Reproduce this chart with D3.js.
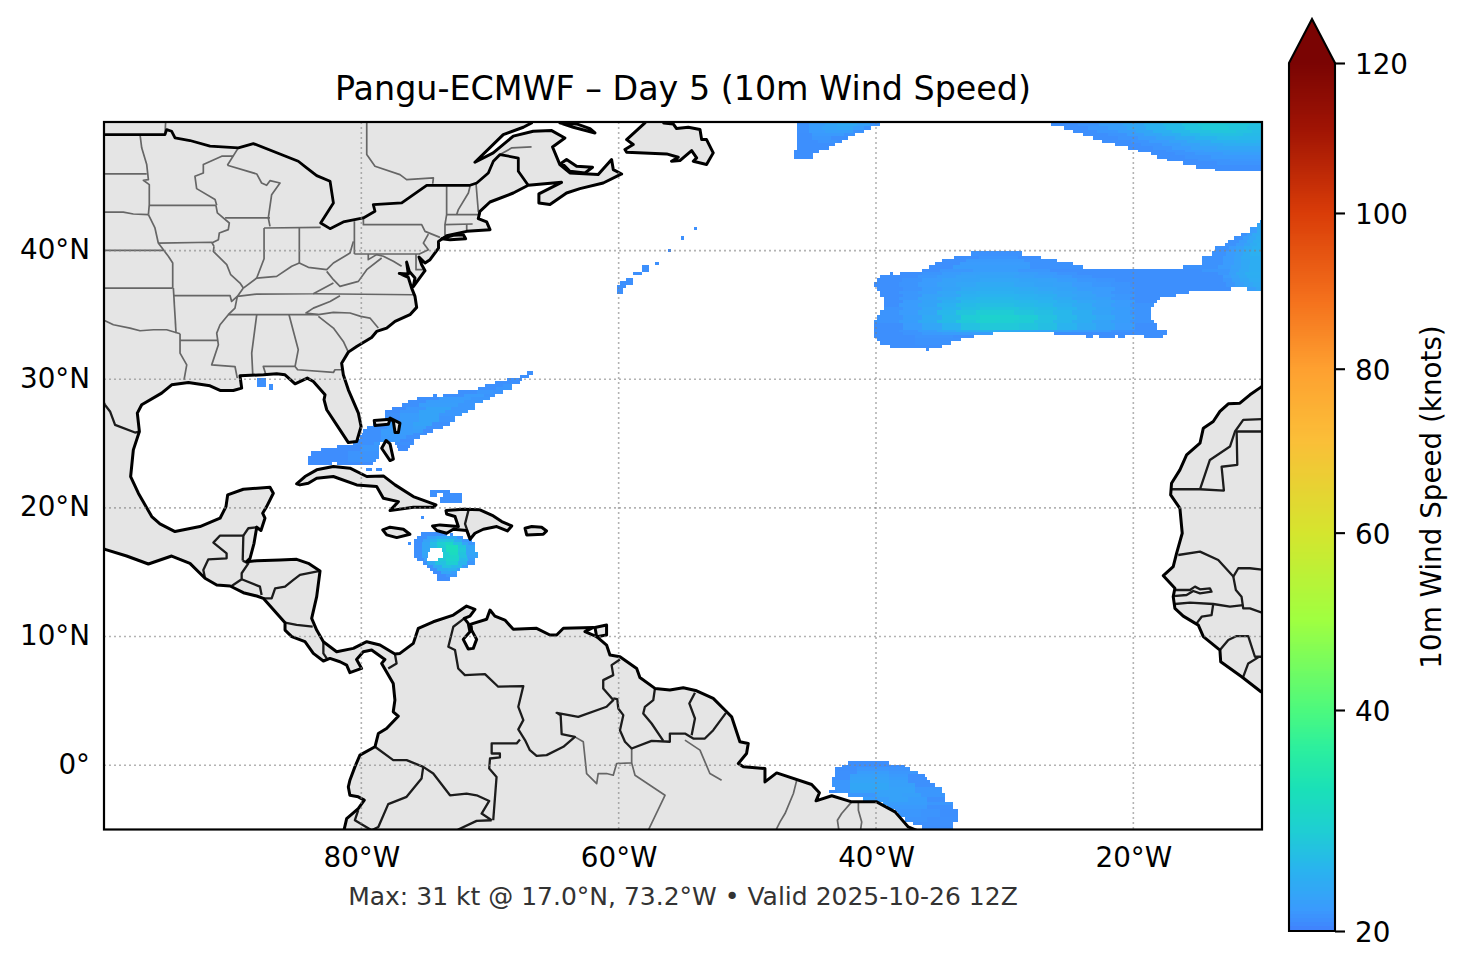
<!DOCTYPE html>
<html>
<head>
<meta charset="utf-8">
<title>Pangu-ECMWF Day 5</title>
<script src="https://cdn.jsdelivr.net/npm/d3@7"></script>
<style>
  html, body { margin: 0; background: #fff; }
  svg { display: block; }
  text { font-family: "DejaVu Sans", sans-serif; fill: #000; }
</style>
</head>
<body>
<svg id="chart" width="1466" height="969"></svg>
<script>
// ---- axis and colour bar values ----
const lonTicks = [-80, -60, -40, -20];
const latTicks = [0, 10, 20, 30, 40];
const barTicks = [20, 40, 60, 80, 100, 120];
// colour, position is the normed 0..1 height on the bar
const colorPos = [0, 0.024, 0.07, 0.116, 0.162, 0.209, 0.253, 0.358, 0.4585, 0.566, 0.647, 0.727, 0.827, 0.923, 1];
const colorHex = ["#4084fd", "#3a9bfd", "#29b4ee", "#1ecfd2", "#1ae0b8", "#2cef9e", "#4cf97e", "#a0ff40", "#d5e52e", "#fbbe38", "#fea030", "#f4701c", "#d93c08", "#a01404", "#7a0403"];

// ---- wind field ----
// each row: lat top, lat bottom, then lon, knots, lon, knots, ... , lon
const bigBlob = [
  [42.41,42.13,-10.15,22.5,-10],
  [42.13,41.87,-10.39,22.5,-10],
  [41.87,41.37,-10.93,21.3,-10.4,23,-10],
  [41.37,41.11,-11.63,20.7,-11.2,21.5,-10.8,23,-10],
  [41.11,40.85,-12.18,20.7,-11.5,21.5,-11,22.5,-10.5,23.4,-10],
  [40.85,40.6,-12.67,20.7,-11.8,21.5,-11.2,22.5,-10.7,23.6,-10],
  [40.6,40.34,-12.88,20.7,-12,21.3,-11.4,22.2,-10.9,23.2,-10.4,23.8,-10],
  [40.34,39.95,-13.65,20.7,-12.6,21.3,-12,22,-11.4,23,-10.8,23.8,-10],
  [39.95,39.56,-13.89,20.7,-12.8,21.3,-12.1,22,-11.5,23,-10.9,23.8,-10],
  [39.56,39.35,-14.66,20.7,-13,21.3,-12.2,22,-11.6,23,-10.9,23.5,-10],
  [39.35,38.91,-14.66,20.7,-13,21.3,-12.2,22,-11.6,22.8,-10.9,23.5,-10],
  [38.91,38.6,-16.14,20.7,-13.4,21.3,-12.4,22,-11.6,22.8,-11,23.5,-10],
  [39.95,39.56,-32.62,20.7,-28.65],
  [39.56,39.35,-33.94,20.5,-32,20.9,-29,20.5,-27.18],
  [39.35,39.14,-34.87,20.5,-33,21.2,-28.5,20.7,-25.93],
  [39.14,38.91,-35.41,20.5,-33.5,21.3,-28,20.7,-24.69],
  [38.91,38.6,-35.88,20.5,-34,21.5,-28,20.7,-23.91],
  [38.6,38.36,-36.42,20.5,-35,21,-32.5,21.5,-29,21,-26.5,20.5,-14.66,21,-12.5,21.8,-11.8,22.8,-11,23.5,-10],
  [38.36,38.13,-38.91,20.5,-38.67],
  [38.36,38.13,-38.13,20.5,-36.4,20.9,-34.9,21.4,-33.4,21.8,-31.9,22,-28.9,21.6,-27.4,21.2,-25.9,20.8,-24.4,20.5,-13.4,21,-12.6,21.8,-12,22.8,-11.3,23.6,-10],
  [38.13,37.87,-39.69,20.5,-36.75,21,-35.25,21.5,-33.75,22,-32.25,22.2,-29.25,21.8,-27.75,21.5,-26.25,21.2,-24.75,20.8,-23.25,20.5,-13,21.3,-12.4,22,-11.8,22.8,-11.2,23.5,-10],
  [37.87,37.6,-39.92,20.5,-38,20.8,-36.4,21.3,-34.9,22,-33.4,22.2,-31.9,22.5,-28.9,22.2,-27.4,22,-25.9,21.5,-24.4,21,-22.9,20.8,-21.4,20.5,-13,21,-12.3,21.8,-11.7,22.6,-11,23.3,-10],
  [37.6,37.15,-40.15,20.5,-38.25,20.8,-36.75,21.3,-35.25,22,-33.75,22.5,-32.25,23,-29.25,22.5,-27.75,22.2,-26.25,22,-24.75,21.3,-23.25,21,-21.75,20.8,-20.25,20.5,-12.8,21,-12.1,21.8,-11.4,22.5,-10.7,23,-10],
  [37.15,36.89,-39.92,20.5,-37.9,20.8,-36.4,21.5,-34.9,22.2,-33.4,23,-31.9,23.5,-28.9,23,-27.4,22.5,-25.9,22.2,-24.4,21.5,-22.9,21.3,-21.4,20.8,-19.9,20.5,-12.41],
  [37.15,36.89,-11.19,21.6,-10.5,22.6,-10],
  [36.89,36.65,-39.69,20.5,-38.25,21,-36.75,21.5,-35.25,22.5,-33.75,23.5,-32.25,23.8,-29.25,23.5,-27.75,23,-26.25,22.5,-24.75,22,-23.25,21.3,-21.75,20.8,-20.25,20.5,-15.67],
  [36.65,36.39,-39.69,20.5,-37.9,21,-36.4,22,-34.9,22.5,-33.4,23.8,-31.9,24.2,-28.9,23.8,-27.4,23.5,-25.9,22.5,-24.4,22,-22.9,21.3,-21.4,21,-19.9,20.5,-16.68],
  [36.39,36.13,-39.38,20.5,-38.25,21,-36.75,22,-35.25,23,-33.75,24.2,-32.25,24.8,-29.25,24.2,-27.75,23.8,-26.25,23,-24.75,22.2,-23.25,21.8,-21.75,21,-20.25,20.5,-17.93],
  [36.13,35.9,-39.38,20.5,-37.9,21.3,-36.4,22.2,-34.9,23.5,-33.4,24.8,-31.9,25.2,-28.9,24.8,-27.4,24.2,-25.9,23.5,-24.4,22.5,-22.9,22,-21.4,21.3,-19.9,20.5,-18.19],
  [35.9,35.64,-39.38,20.5,-38.25,21.3,-36.75,22.2,-35.25,23.8,-33.75,25.2,-32.25,25.7,-29.25,25.2,-27.75,24.8,-26.25,23.8,-24.75,23,-23.25,22,-21.75,21.3,-20.25,20.8,-18.39],
  [35.64,35.41,-39.38,20.8,-37.9,21.3,-36.4,22.5,-34.9,24.2,-33.4,25.7,-31.9,26.5,-28.9,25.7,-27.4,25.2,-25.9,24.2,-24.4,23,-22.9,22.2,-21.4,21.5,-19.9,20.8,-18.63],
  [35.41,35.02,-39.69,20.8,-38.25,21.3,-36.75,22.5,-35.25,24.8,-33.75,26.5,-32.25,27.5,-29.25,26.5,-27.75,25.7,-26.25,24.8,-24.75,23.5,-23.25,22.2,-21.75,21.5,-20.25,20.8,-18.63],
  [35.02,34.63,-39.92,20.8,-37.9,21.5,-36.4,23,-34.9,25.2,-33.4,27.5,-31.9,28.5,-30.4,28.2,-28.9,27.5,-27.4,26,-25.9,24.8,-24.4,23.5,-22.9,22.5,-21.4,21.5,-19.9,20.8,-18.63],
  [34.63,34.37,-40.15,20.8,-38.25,21.5,-36.75,23,-35.25,25.2,-33.75,27,-32.25,28.2,-30.75,28,-29.25,27.5,-27.75,26,-26.25,24.8,-24.75,23.5,-23.25,22.2,-21.75,21.5,-20.25,20.8,-18.39],
  [34.37,33.85,-40.15,20.5,-37.9,21.3,-36.4,22.5,-34.9,24.2,-33.4,26,-31.9,27,-28.9,26.5,-27.4,25.7,-25.9,24.2,-24.4,23,-22.9,22.2,-21.4,21.3,-19.9,20.5,-18.19],
  [33.85,33.67,-40.15,20.5,-38.25,20.8,-36.75,21.5,-35.25,22.5,-33.75,23.5,-32.25,24,-30.75,23.5,-29.25,23,-27.75,22.5,-26.25,22,-24.75,21.5,-23.25,21.3,-21.75,20.8,-20.25,20.5,-17.41],
  [33.67,33.41,-40.15,20.5,-37.9,20.8,-36.4,21.2,-34.9,21.5,-30.88],
  [33.67,33.41,-26.17,20.5,-17.41],
  [33.41,33.2,-40.15,20.5,-37,20.8,-34,20.6,-32.38],
  [33.41,33.2,-23.68,20.5,-23.13],
  [33.41,33.2,-22.67,20.5,-21.42],
  [33.41,33.2,-21.17,20.5,-20.65],
  [33.41,33.2,-19.17,20.5,-17.67],
  [33.2,32.94,-39.92,20.5,-37,20.7,-33.39],
  [32.94,32.63,-39.69,20.5,-37,20.7,-34.17],
  [32.63,32.42,-38.91,20.5,-34.9],
  [32.42,32.16,-36.11,20.5,-35.87]
];
const topLeftBlob = [
  [50.05,49.93,-46.11,21,-44.8,22,-43.5,23,-42,22.2,-40.5,21,-38.91],
  [49.93,49.67,-46.11,20.7,-45.2,21.5,-44,22.4,-43,23,-41.5,22,-40.5,20.8,-39.69],
  [49.67,49.41,-46.11,20.7,-45.2,21.5,-44.2,22.2,-43,22.6,-41.8,21.5,-40.9,20.7,-40.39],
  [49.41,49.15,-46.11,20.6,-45.2,21.3,-44,21.8,-42.8,21.6,-41.8,20.7,-40.93],
  [49.15,48.89,-46.11,20.5,-45,21.2,-43.5,21.2,-42.5,20.7,-41.63],
  [48.89,48.63,-46.11,20.5,-45,21,-43.5,20.5,-42.15],
  [48.63,48.38,-46.11,20.5,-44.5,20.8,-43,20.5,-42.67],
  [48.38,48.12,-46.11,20.5,-43.19],
  [48.12,47.86,-46.11,20.5,-43.65],
  [47.86,47.6,-46.37,20.5,-44.43],
  [47.6,47.16,-46.37,20.5,-44.87]
];
const topRightBlob = [
  [50.05,49.93,-26.86,20.5,-24.5,21,-22.5,21.8,-20.5,22.8,-19,23.8,-17.5,25,-16,26,-14.8,27,-12.5,26.5,-11,26,-10],
  [49.93,49.67,-26.4,20.5,-24.3,20.8,-22.7,21.6,-20.8,22.6,-19.2,24,-17.7,25.2,-16.2,26.4,-15,27.3,-12.8,26.8,-11,26,-10],
  [49.67,49.41,-25.39,20.5,-23.5,21,-22,21.6,-20.5,22.6,-19,24,-17.5,25.2,-16,26.4,-14.7,27.2,-12.6,26.6,-11.2,25.8,-10],
  [49.41,49.15,-24.69,20.5,-22.8,21,-21.2,21.6,-19.8,22.6,-18.5,23.8,-17,25,-15.6,26,-14,26.6,-12,26,-10.8,25.4,-10],
  [49.15,48.89,-23.91,20.5,-22,20.8,-20.5,21.5,-19.2,22.4,-17.8,23.5,-16.3,24.6,-14.8,25.5,-13,25.8,-11.5,25.2,-10],
  [48.89,48.63,-23.13,20.5,-21.2,20.8,-19.6,21.4,-18.2,22.2,-16.8,23.2,-15.2,24.3,-13.5,25,-11.8,24.8,-10],
  [48.63,48.38,-22.43,20.5,-20.2,20.8,-18.8,21.3,-17.2,22,-15.8,23,-14,24,-12,24.3,-10.5,24,-10],
  [48.38,48.17,-21.42,20.5,-19.4,20.8,-17.8,21.4,-16.3,22,-14.8,22.8,-13,23.4,-10],
  [48.17,47.86,-20.41,20.5,-18.5,20.8,-17,21.3,-15.5,22,-13.5,22.6,-10],
  [47.86,47.65,-19.61,20.5,-17.5,20.8,-16,21.3,-14.5,21.8,-12.5,22.2,-10],
  [47.65,47.42,-18.63,20.5,-16.8,20.8,-15.2,21.2,-13,21.7,-10],
  [47.42,47.16,-18.16,20.5,-16,20.8,-14,21.2,-10],
  [47.16,46.95,-17.38,20.5,-15,20.8,-12.5,21,-10],
  [46.95,46.64,-16.14,20.5,-13.5,20.8,-10],
  [46.64,46.38,-15.13,20.5,-10],
  [46.38,46.17,-13.65,20.5,-10]
];
const streakBlob = [
  [41.86,41.63,-54.15,20.6,-53.92],
  [41.16,40.85,-55.16,20.6,-54.93],
  [40.15,39.92,-56.17,20.3,-55.94],
  [39.14,38.91,-57.18,20.6,-56.87],
  [38.91,38.36,-58.19,20.6,-57.65],
  [38.36,38.13,-58.89,20.6,-58.19],
  [37.9,37.35,-59.43,20.6,-58.89],
  [37.66,37.12,-59.9,20.6,-59.43],
  [37.35,36.65,-60.14,20.6,-59.67]
];
const gulfSpecks = [
  [30.09,29.37,-88.13,20.6,-87.41],
  [29.65,29.13,-87.18,20.6,-86.87]
];
const bahamasBlob = [
  [30.66,30.35,-67.15,20.6,-66.68],
  [30.35,30.12,-67.66,20.6,-66.94],
  [30.12,29.86,-68.7,20.6,-67.53],
  [29.86,29.62,-69.61,20.6,-67.66],
  [29.62,29.37,-70.38,20.6,-69,21,-68.31],
  [29.37,29.13,-70.9,20.6,-69.5,21,-68.31],
  [29.13,28.87,-72.46,20.6,-71,21,-69.8,20.8,-68.96],
  [28.87,28.61,-73.62,20.6,-72,21.3,-70.5,20.8,-69.61],
  [28.87,28.61,-74.4,20.6,-74.14],
  [28.61,28.38,-75.7,20.6,-74,21.3,-71.5,21,-70],
  [28.38,28.12,-76.34,20.6,-75,21.5,-72,21,-70.57],
  [28.12,27.86,-76.86,20.6,-75.5,21.6,-72.5,21,-71.16],
  [27.86,27.63,-77.64,20.4,-76.5,21,-75,22.2,-73,21,-71.16],
  [27.63,27.37,-78.16,20.4,-77,21,-75.5,22.2,-73.5,21,-71.68],
  [27.37,27.11,-78.16,20.6,-77,21.4,-75.5,22.2,-74,21,-72.2],
  [27.11,26.64,-78.16,20.6,-77,21.4,-75.5,22.2,-74,20.8,-72.72],
  [26.64,26.38,-79.06,20.6,-78,21.4,-76,22.2,-74.5,20.6,-73.1],
  [26.38,26.12,-79.58,20.6,-78,21.4,-76,21.8,-75,20.6,-73.62],
  [26.12,25.86,-79.84,20.6,-78.5,21.4,-76,21.6,-75.2,20.4,-74.4],
  [25.86,25.63,-79.97,20.6,-78.5,21.4,-76,20.6,-74.92],
  [25.63,25.37,-80.1,20.6,-78.5,21.2,-76.5,20.6,-75.44],
  [25.37,25.14,-80.23,20.6,-78.5,21.2,-77,20.4,-75.9],
  [25.14,24.88,-80.62,20.6,-79,21.2,-78.54],
  [25.14,24.88,-77.38,20.6,-75.9],
  [24.88,24.64,-81.91,20.4,-80,21,-78.6],
  [24.88,24.64,-77.25,20.4,-76.2],
  [24.64,24.39,-83.13,20.4,-80,21,-78.65],
  [24.64,24.39,-77.12,20.4,-76.34],
  [24.39,24.07,-83.9,20.4,-81,20.8,-78.65],
  [24.07,23.84,-84.11,20.4,-81,20.8,-78.65],
  [23.84,23.58,-84.11,20.4,-81,20.8,-78.86],
  [23.58,23.35,-84.11,20.4,-82.3],
  [23.58,23.35,-81.9,20.4,-79.12],
  [23.11,22.9,-79.63,20.6,-79.17],
  [23.11,22.9,-78.86,20.6,-78.39]
];
const windwardBlob = [
  [21.4,21.14,-74.66,20.6,-73.1],
  [21.14,20.88,-74.66,20.6,-74.14],
  [21.14,20.88,-73.62,20.6,-72.2],
  [20.88,20.42,-73.88,20.6,-72.2],
  [19.38,19.14,-75.36,20.6,-75.13],
  [17.35,17.12,-76.37,20.6,-76.14],
  [18.03,17.82,-73.1,20.6,-72.84]
];
const stormBlob = [
  [18.11,17.82,-75.36,20.6,-73.36],
  [17.82,17.59,-75.67,20.6,-74.9,22,-74.2,23,-73.4,23,-72.6,20.8,-72.07],
  [17.59,17.35,-75.9,20.5,-75.2,22,-74.7,24,-74.1,26,-73.4,26.5,-72.8,23.5,-72.2,21,-71.42],
  [17.35,17.09,-75.9,20.5,-75.3,22.5,-74.7,25.5,-74.1,28,-73.5,29.5,-72.9,26,-72.2,22.5,-71.7,21,-71.16],
  [17.09,16.86,-75.9,20.5,-75.3,22.5,-74.7,25,-74.1,27.5,-73.4,31,-72.5,26.5,-71.9,22.5,-71.16],
  [16.86,16.6,-75.9,20.6,-75.3,22.5,-74.66],
  [16.86,16.6,-73.75,27,-73.4,31,-72.5,27,-71.9,22.5,-71.16],
  [16.6,16.34,-75.9,20.6,-75.3,22.5,-74.79],
  [16.6,16.34,-73.62,28,-73.2,30.5,-72.5,26.5,-71.9,22.5,-70.9],
  [16.34,16.08,-75.9,20.6,-75.3,22,-74.79],
  [16.34,16.08,-73.62,28,-73.1,29.5,-72.4,26,-71.8,22,-70.9],
  [16.08,15.85,-75.67,20.6,-75.1,22,-74.92],
  [16.08,15.85,-74.01,27,-73.4,29,-72.4,25,-71.7,21.5,-71.16],
  [15.85,15.59,-75.18,20.6,-74.9,23,-74.3,26,-73.4,28,-72.5,24.5,-71.8,21,-71.16],
  [15.59,15.33,-74.92,20.6,-74.4,23,-73.7,26,-73,25,-72.2,21.5,-71.68],
  [15.33,15.1,-74.66,20.6,-74.1,23.5,-73.3,24,-72.6,21.5,-72.33],
  [15.1,14.84,-74.4,20.4,-73.8,22.5,-73,21.5,-72.59],
  [14.84,14.6,-74.14,20.4,-73.4,21,-72.59],
  [14.6,14.35,-74.14,20.4,-73.1]
];
const brazilBlob = [
  [0.31,0.05,-42.15,20.5,-39],
  [0.05,-0.18,-42.67,20.5,-37.75],
  [-0.18,-0.44,-43.19,20.5,-41.5,21,-39,20.8,-37.36],
  [-0.44,-0.7,-43.19,20.6,-41.5,21.5,-39,21,-36.71],
  [-0.7,-0.9,-43.19,20.6,-42,21.8,-39,21.2,-37.5,20.5,-36.19],
  [-0.9,-1.16,-43.44,20.6,-42,22,-39,21.5,-37.5,20.6,-36.07],
  [-1.16,-1.42,-43.44,21,-42,22.3,-39,21.8,-37.5,20.6,-35.8],
  [-1.42,-1.68,-43.44,21,-42,22.6,-39,21.8,-37,20.6,-35.41],
  [-1.68,-1.94,-43.19,21,-42,22.6,-39,22,-37,21,-34.9],
  [-1.94,-2.2,-43.65,20.5,-43,21,-42,22,-39,22,-37,21,-34.9],
  [-2.2,-2.46,-42.15,21,-40,22,-38,21.8,-36.5,21,-34.64],
  [-2.46,-2.85,-40.98,21.5,-39,22,-37.5,21.5,-36,20.6,-34.64],
  [-2.85,-3.11,-39.43,21.5,-37.5,21.5,-36,21,-34],
  [-3.11,-3.37,-39.12,21.2,-37.5,21.2,-36,20.6,-34],
  [-3.37,-3.63,-38.52,21,-36.5,20.8,-35,20.5,-33.65],
  [-3.63,-4.02,-38.26,21,-36.5,20.8,-35,20.5,-33.65],
  [-4.02,-4.41,-37.75,20.8,-36,20.6,-33.65],
  [-4.41,-4.67,-37.1,20.6,-34],
  [-4.67,-4.93,-36.45,20.5,-34],
  [-4.93,-5.05,-35.68,20.5,-33.65]
];
const windRows = [].concat(bigBlob, topLeftBlob, topRightBlob, streakBlob, gulfSpecks, bahamasBlob, windwardBlob, stormBlob, brazilBlob);

// ---- land, [lon, lat] traced by hand ----
// the Americas as one outline, Gulf of St Lawrence round to the Pacific side
const americas = [
  [-66.3,53],[-66.77,49.93],[-67.41,49.59],[-68.97,49.02],[-71.17,46.87],[-69.75,47.6],[-68.19,48.9],[-66.64,49.28],[-65.21,49.33],[-64.18,48.76],
  [-65.14,48.06],[-64.57,46.69],[-63.79,46.04],[-61.59,45.91],[-60.55,47.08],[-60.42,46.3],[-59.77,45.96],[-61.2,45.26],[-63.01,44.82],[-64.05,44.48],
  [-65.34,43.58],[-66.2,43.71],[-66.2,44.41],[-64.44,45.31],[-67.03,45.08],[-68.19,44.48],[-70,43.78],[-70.78,43.06],[-70.91,42.49],[-70.26,42.23],
  [-70,41.63],[-71.81,41.5],[-73.37,41.16],[-74,40.72],[-74,40.2],[-74.66,39.3],[-75.05,39.04],[-75.52,39.5],[-75.31,38.91],[-75.05,38.44],
  [-75.96,37.2],[-75.83,37.87],[-76.27,38.39],[-76.48,39.11],[-76.35,38.18],[-77.05,38.23],[-76.35,37.92],[-76.09,37.09],[-75.83,36.44],[-75.7,35.59],
  [-76.22,35.02],[-77.38,34.5],[-78.03,33.98],[-78.81,33.72],[-79.2,33.25],[-80.36,32.55],[-81.01,32.11],[-81.53,31.25],[-81.4,30.35],[-81.01,29.18],
  [-80.23,27.37],[-80.02,26.33],[-80.36,25.16],[-81.01,25.08],[-81.66,26.07],[-82.69,27.63],[-82.9,28.41],[-82.82,28.8],[-83.73,29.83],[-84.2,30.09],
  [-85.15,29.65],[-85.93,30.35],[-86.58,30.43],[-87.6,30.35],[-89.43,30.27],[-89.3,29.31],[-89.95,29.13],[-90.98,29.13],[-91.76,29.49],[-92.8,29.65],
  [-93.44,29.75],[-94.74,29.57],[-95.52,28.92],[-97.07,28.02],[-97.41,27.37],[-97.25,25.94],[-97.72,24.51],[-97.93,22.44],[-97.33,21.14],[-96.29,19.33],
  [-95.65,18.76],[-94.48,18.16],[-92.54,18.55],[-90.98,19.2],[-90.52,20.1],[-90.39,21.01],[-89.17,21.45],[-87.1,21.61],[-86.84,21.14],[-87.36,20.1],
  [-87.67,19.59],[-87.49,19.2],[-87.8,18.24],[-88.13,18.5],[-88.34,17.25],[-88.65,16.08],[-88.91,15.82],[-88.13,15.9],[-86.32,15.95],[-85.03,16],
  [-84.12,15.69],[-83.21,15.1],[-83.47,13.1],[-83.86,11.41],[-83.47,10.5],[-82.95,9.6],[-81.92,8.82],[-80.62,9.08],[-79.58,9.6],[-78.55,9.34],
  [-77.39,8.64],[-77,8.69],[-75.96,9.47],[-75.57,10.64],[-74.41,11.15],[-72.85,11.67],[-71.82,12.37],[-71.17,12.11],[-71.56,11.59],[-72,11.41],
  [-71.69,11.02],[-71.56,10.38],[-72.08,9.78],[-71.69,9.03],[-71.3,9.08],[-71.04,9.78],[-71.43,10.5],[-71.48,10.97],[-70.26,11.34],[-70,12.06],
  [-69.62,11.59],[-68.84,11.28],[-68.19,10.56],[-66.38,10.64],[-65.34,10.12],[-64.82,10.12],[-64.3,10.64],[-61.97,10.71],[-62.62,10.38],[-61.71,9.99],
  [-60.94,9.34],[-60.68,8.56],[-59.9,8.43],[-58.6,7.52],[-58.35,6.82],[-57.18,5.97],[-56.02,5.84],[-54.98,6.02],[-53.94,5.78],[-52.65,5.19],
  [-51.61,4.15],[-51.22,3.76],[-50.58,1.82],[-49.93,1.69],[-50.06,0.91],[-50.7,0.13],[-50.31,-0.13],[-48.63,-0.26],[-48.63,-1.3],[-47.72,-0.6],
  [-45,-1.5],[-44.4,-2.15],[-44.66,-2.77],[-43.44,-2.38],[-41.89,-2.85],[-39.95,-2.85],[-38.52,-3.63],[-37.49,-4.8],[-36.84,-5.06],[-36,-8],
  [-81.53,-8],[-81.53,-5.84],[-81.14,-4.15],[-80.24,-3.37],[-79.77,-2.72],[-80.24,-2.46],[-80.89,-2.34],[-81.01,-1.69],[-80.89,-1.17],[-80.5,-0.13],
  [-80.11,0.78],[-78.94,1.43],[-78.68,2.46],[-78.04,2.85],[-77.13,3.81],[-77.52,4.15],[-77.39,5.06],[-77.52,6.35],[-78.42,7.91],[-78.17,8.22],
  [-79.2,8.95],[-79.85,8.82],[-80.37,8.22],[-79.98,7.52],[-80.89,7.19],[-81.14,7.78],[-81.66,8.04],[-82.44,8.3],[-82.95,8.1],[-83.73,8.69],
  [-84.38,9.6],[-85.41,9.99],[-85.93,10.5],[-85.93,11.08],[-87.62,12.97],[-88.13,13.15],[-89.17,13.41],[-90.2,13.93],[-91.24,14.01],[-92.15,14.53],
  [-93.32,15.69],[-94.74,16.26],[-96.55,15.64],[-98.24,16.26],[-99.92,16.78],[-103,17.5],[-103,53]
];
const africa = [
  [-10.08,29.39],[-10.94,28.79],[-11.72,28.14],[-12.62,28.09],[-13.27,27.5],[-13.79,26.72],[-14.56,26.2],[-14.82,25.03],[-15.86,24.12],[-16.38,22.96],
  [-17.03,21.92],[-17.1,21.01],[-16.38,19.97],[-16.2,18.03],[-16.64,16.47],[-16.9,15.43],[-17.67,14.73],[-16.77,13.75],[-16.9,13.1],[-16.77,12.19],
  [-16.12,11.59],[-14.95,10.89],[-14.56,9.99],[-13.27,8.95],[-13.21,8.04],[-11.58,6.87],[-10.08,5.71],[-8,4.5],[-8,30.5]
];
const islands = [
  [[-73.75,40.93],[-72.85,41.19],[-72.07,41.24],[-71.89,40.93],[-73.1,40.85]], // Long Island
  [[-85.03,21.87],[-84.38,22.44],[-83.47,22.96],[-82.18,23.22],[-80.88,23.09],[-79.58,22.44],[-78.29,22.49],[-77.38,21.79],[-75.96,20.88],[-74.2,20.23],[-74.4,20.05],[-75.96,20.05],[-77.77,19.79],[-77.12,20.49],[-78.29,20.75],[-78.81,21.66],[-80.36,21.79],[-82.18,22.44],[-83.47,22.31],[-84.12,21.92],[-84.77,21.79]], // Cuba
  [[-78.34,18.29],[-77.77,18.5],[-76.73,18.34],[-76.22,17.95],[-77.25,17.69],[-78.03,17.9]], // Jamaica
  [[-73.42,19.79],[-72.07,19.9],[-70.78,19.85],[-69.74,19.38],[-69.09,18.94],[-68.31,18.6],[-68.65,18.21],[-69.48,18.55],[-70.52,18.34],[-71.17,18.03],[-71.55,17.56],[-71.81,18.24],[-72.85,18.34],[-73.37,18.03],[-74.14,18.24],[-74.46,18.6],[-73.89,18.68],[-72.46,18.55],[-72.72,19.33],[-73.37,19.53]], // Hispaniola
  [[-67.28,18.42],[-66.76,18.55],[-65.99,18.5],[-65.6,18.21],[-65.86,17.95],[-67.15,17.9]], // Puerto Rico
  [[-79,26.8],[-77.77,26.9],[-77.9,26.51],[-78.94,26.41]], // Grand Bahama
  [[-77.77,26.98],[-77,26.59],[-77.12,25.86],[-77.38,25.86],[-77.51,26.72]], // Abaco
  [[-78.08,25.24],[-77.77,24.98],[-77.51,23.79],[-77.77,23.68],[-78.42,24.64]], // Andros
  [[-64.57,49.93],[-63.53,49.59],[-61.84,49.15],[-62.23,49.49],[-63.27,49.85]], // Anticosti
  [[-64.44,46.82],[-64.05,47.08],[-63.27,46.56],[-62.03,46.48],[-62.62,46.04],[-63.79,46.17]], // PEI
  [[-57.44,50.6],[-57.96,49.93],[-59.38,48.63],[-58.87,48.25],[-59.51,47.86],[-59.38,47.65],[-56.27,47.52],[-55.37,47.26],[-55.89,46.95],[-55.24,47],[-54.33,47.78],[-53.94,47.21],[-54.2,46.95],[-53.17,46.69],[-52.65,47.6],[-53.17,48.63],[-53.55,48.63],[-53.68,49.41],[-54.59,49.59],[-55.5,49.49],[-55.76,49.85],[-56.5,49.93],[-56.5,50.6]], // Newfoundland
  [[-61.84,10.71],[-60.94,10.9],[-60.94,10.12],[-61.71,9.99]] // Trinidad
];

// ---- country borders ----
const usCanada = [
  [-99.92,49.02],[-95.26,49.02],[-95.13,49.41],[-94.74,49.28],[-94.48,48.76],[-93.32,48.56],[-91.76,48.12],[-89.56,47.99],[-88.39,48.32],[-84.9,46.95],
  [-84.25,46.43],[-83.47,45.83],[-82.43,45.39],[-82.17,43.71],[-83.16,42.15],[-82.43,41.71],[-81.4,42.23],[-79.84,42.54],[-78.94,43.06],[-79.07,43.58],
  [-76.86,43.71],[-74.92,45.08],[-71.55,45.08],[-71.03,45.26],[-70.13,46.04],[-69.74,46.95],[-69.22,47.47],[-67.8,47.2],[-67.8,46.17],[-67.03,45.08]
];
const countryLines = [
  [[-103,49.02],[-99.92,49.02]],
  [[-99.92,28],[-99.53,27.5],[-99.14,26.46],[-97.59,25.86],[-97.2,25.94]],
  [[-100.5,29.2],[-99.92,28]],
  [[-92.15,14.53],[-92.28,15.18],[-91.89,16],[-90.47,16.08],[-90.47,16.47],[-91.5,17.3],[-90.98,17.85],[-89.17,17.85],[-89.22,15.9]],
  [[-89.17,17.85],[-88.78,18.42],[-88.13,18.5]],
  [[-89.22,15.9],[-88.78,15.69],[-89.3,14.92],[-89.3,14.45],[-90.08,13.93]],
  [[-89.3,14.45],[-87.88,13.88],[-87.75,13.23]],
  [[-83.21,15.1],[-84.77,14.79],[-85.28,14.4],[-85.93,13.88],[-86.7,13.75],[-86.97,12.97],[-87.62,12.97]],
  [[-85.93,11.08],[-85.03,10.9],[-83.78,10.77]],
  [[-82.95,9.6],[-82.95,8.69],[-82.69,8.3]],
  [[-77.39,8.64],[-77.26,7.91],[-77.91,7.52]],
  [[-71.68,19.79],[-71.94,18.76],[-71.55,17.64]],
  // Colombia, Venezuela, Guyana
  [[-72,11.41],[-72.85,10.76],[-73.24,9.21],[-72.72,8.95],[-72.47,7.52],[-71.95,7],[-70.39,7.08],[-69.36,6.1],[-67.41,6.15],[-67.8,4.54],[-67.41,3.5],[-67.8,2.78],[-67.28,1.95],[-66.9,1.17],[-66.38,0.73],[-65.6,0.78],[-64.3,1.43],[-63.4,2.2],[-64.43,2.41],[-64.51,3.89],[-64.82,4.07],[-63.14,3.76],[-60.94,4.54],[-60.42,5.06],[-61.2,5.97],[-61.2,6.61],[-60.42,7],[-60.55,7.78],[-59.9,8.22]],
  [[-67.67,2],[-67.93,1.69],[-69.87,1.69],[-69.87,0.91],[-69.23,0.91],[-69.23,0.6],[-70,0.52],[-70.06,-0.26],[-69.49,-0.91],[-69.75,-4.28]],
  [[-60.42,5.19],[-60.11,5.14],[-60.03,4.41],[-59.64,3.89],[-59.9,2.72],[-59.51,1.82],[-58.99,1.3],[-57.44,1.89],[-56.02,1.82],[-56.02,2.46],[-54.85,2.46],[-54.2,2.07],[-53.3,2.07],[-52.65,2.72],[-51.66,4.07]],
  [[-57.18,5.97],[-57.31,5.06],[-57.96,4.54],[-58.09,4.02],[-57.44,3.24],[-56.53,1.89]],
  [[-54.07,5.63],[-54.51,4.8],[-54.07,3.63],[-54.33,2.33]],
  [[-78.94,1.43],[-77.52,0.39],[-76.48,0.39],[-75.19,-0.13],[-74.41,-0.65],[-73.11,-2.34],[-71.82,-2.21],[-71.04,-2.34],[-70.06,-2.78],[-70.65,-3.76],[-69.87,-4.28]],
  [[-75.19,-0.13],[-75.32,-1.04],[-76.48,-2.46],[-77.91,-3.03],[-78.68,-4.8],[-79.2,-5.06],[-80.5,-4.28],[-80.24,-3.5]],
  [[-69.87,-4.28],[-71.04,-4.33],[-72.47,-5],[-72.8,-5.3]],
  // West Africa
  [[-17.1,21.45],[-14.82,21.45],[-12.96,21.35],[-13.14,23.2],[-11.92,23.35],[-11.97,25.94],[-10,25.94]],
  [[-14.82,21.45],[-14.05,23.73],[-12.49,24.77],[-12.1,25.94],[-11.46,26.85],[-10,26.9]],
  [[-16.51,16.34],[-14.82,16.6],[-13.4,15.95],[-12.23,14.66],[-11.84,15.31],[-10.94,15.31],[-10,15.2]],
  [[-12.23,14.66],[-12.03,13.62],[-11.59,13.1],[-11.46,12.19],[-10.94,12.19],[-10,11.85]],
  [[-16.77,12.53],[-15.6,12.63],[-13.79,12.53],[-12.49,12.32],[-11.46,12.45]],
  [[-16.77,13.62],[-15.6,13.62],[-15.21,13.88],[-14.82,13.67],[-14.05,13.75],[-13.92,13.49],[-14.82,13.36],[-15.34,13.54],[-15.86,13.23],[-16.9,13.15]],
  [[-13.79,12.53],[-13.92,11.67],[-14.69,11.54],[-15.08,11.02]],
  [[-13.27,8.95],[-12.62,9.73],[-11.97,10.04],[-11.07,10.04],[-10.55,8.43],[-10,8.43]],
  [[-11.46,6.87],[-11.07,7.91],[-10.29,8.38]]
];

// ---- state and province lines ----
const stateLines = [
  [[-95.2,50.2],[-95.26,49.02]],
  [[-79.58,50.2],[-79.58,47.47],[-78.94,46.56],[-77,45.91],[-76.48,45.52],[-74.4,45.65],[-74.45,45.2]],
  [[-69.22,47.47],[-68.3,47.99],[-66.77,48.06]],
  [[-97.2,49.02],[-97.07,47.99],[-96.68,46.69],[-96.55,45.52],[-96.94,45.47],[-96.48,45.13],[-96.48,43.58],[-96.55,42.8]],
  [[-103,45.96],[-96.68,45.96]],
  [[-103,43],[-98.5,43],[-97.72,42.85],[-96.55,42.8]],
  [[-96.48,43.52],[-91.3,43.52]],
  [[-96.55,42.8],[-96.04,41.76],[-95.78,40.59],[-95,39.56],[-94.66,39.04],[-94.66,37.09]],
  [[-103,40.02],[-95.39,40.02]],
  [[-103,37.09],[-94.66,37.09]],
  [[-95.78,40.59],[-91.63,40.65],[-91.45,40.33]],
  [[-91.3,43.52],[-91.19,42.93],[-90.26,42.15],[-90.34,41.63],[-91.04,41.37],[-91.11,40.85],[-91.63,40.59]],
  [[-91.45,40.33],[-91.5,39.94],[-90.46,38.91],[-90.15,38.13],[-89.43,37.48],[-89.17,37.09]],
  [[-89.95,47.34],[-90.85,47.34],[-92.28,46.69],[-92.28,46.04],[-92.93,45.78],[-92.8,44.82],[-91.37,43.97],[-91.24,43.52]],
  [[-89.56,47.99],[-90.41,46.64]],
  [[-90.41,46.64],[-88.13,45.96],[-87.75,45.26],[-87.36,45.08],[-87.1,45.44],[-86.32,45.26],[-86.97,44.35],[-87.23,42.54],[-87.1,41.89]],
  [[-90.59,42.54],[-87.1,42.54]],
  [[-87.56,41.76],[-87.56,39.37],[-88.13,37.87]],
  [[-84.82,41.76],[-84.82,39.04]],
  [[-87.56,41.76],[-83.16,41.81]],
  [[-89.17,37.09],[-88.13,37.87],[-86.58,38],[-85.41,38.78],[-84.82,39.04],[-84.12,38.7],[-82.69,38.52],[-82.17,39.04],[-80.88,39.81],[-80.62,40.72]],
  [[-80.54,42.28],[-80.54,39.74]],
  [[-80.54,39.74],[-75.44,39.74]],
  [[-75.75,39.74],[-75.75,38.52],[-75.05,38.52]],
  [[-79.46,39.74],[-79.46,39.3],[-78.81,39.69],[-78.29,39.56],[-77.51,39.17],[-76.87,38.78]],
  [[-82.69,38.39],[-82.17,37.74],[-81.66,37.22],[-80.23,37.61],[-79.58,38.52],[-78.42,39.43]],
  [[-89.64,36.44],[-88.13,36.62],[-83.73,36.65],[-82.17,37.48]],
  [[-83.73,36.65],[-75.96,36.57]],
  [[-94.61,36.5],[-90.2,36.5],[-90.08,36.05],[-89.64,36.44]],
  [[-89.17,37.09],[-89.64,36.44],[-89.82,35.53],[-90.34,35.02],[-90.98,34.24],[-91.24,33.59],[-91.11,32.68],[-91.63,31.12],[-89.82,30.99],[-89.64,30.09]],
  [[-94.61,37.09],[-94.4,33.59]],
  [[-103,34.9],[-99.92,34.55],[-99.27,34.24],[-97.98,33.98],[-97.2,33.77],[-96.16,33.85],[-95.13,33.85],[-94.09,33.54]],
  [[-94.09,33.54],[-94.09,32.03],[-93.57,31.12],[-93.78,29.95]],
  [[-94.09,33.02],[-91.19,33.02]],
  [[-90.34,35.02],[-83.34,35.02],[-82.17,35.2],[-80.88,35.15],[-80.05,34.89],[-79.33,34.76],[-78.68,33.98]],
  [[-81.66,36.5],[-82.43,36.05],[-83.73,35.53],[-84.3,35.15],[-83.34,35.02]],
  [[-88.13,35.02],[-88.52,32.03],[-88.44,30.4]],
  [[-85.62,35.02],[-84.9,32.3],[-85.15,31]],
  [[-87.43,30.4],[-87.62,31],[-85.15,31],[-84.95,30.74],[-82.17,30.53],[-82.05,30.74],[-81.53,30.74]],
  [[-83.34,34.89],[-82.17,33.98],[-81.4,32.94],[-81.01,32.11]],
  [[-79.84,42.5],[-79.84,42.02],[-75.31,42.02],[-75.05,41.5],[-73.89,41.03]],
  [[-74.79,41.29],[-75.18,40.59],[-74.79,40.07],[-75.49,39.74]],
  [[-73.37,45],[-73.37,42.8],[-73.5,42.02],[-73.5,41.19]],
  [[-73.37,42.8],[-70.78,42.8]],
  [[-73.5,42.02],[-71.35,42.07]],
  [[-71.81,42.07],[-71.81,41.5]],
  [[-71.55,45],[-71.68,44.48],[-72.46,43.19],[-72.59,42.8]],
  [[-71.09,45.26],[-70.91,43.06],[-70.78,42.8]],
  // Brazil
  [[-63.4,2.2],[-62.75,1.82],[-62.49,-0.65],[-61.71,-1.43],[-61.59,-0.65],[-60.94,-0.65],[-60.42,-0.78],[-60.16,0.13],[-58.99,0.18],[-58.99,1.3]],
  [[-58.99,0.18],[-58.73,-0.78],[-56.4,-2.34],[-57.7,-5.06]],
  [[-54.85,1.95],[-53.68,1.17],[-52.91,-0.65],[-52,-1.17]],
  [[-46.16,-1.16],[-46.42,-2.2],[-47.07,-3.76],[-47.46,-4.41],[-48,-5.5]],
  [[-41.89,-2.85],[-42.67,-3.76],[-43,-4.28],[-42.85,-5.3]],
  [[-41.37,-2.85],[-41.37,-3.5],[-41.11,-4.41],[-41.24,-5.3]]
];

// ---- layout ----
const W = 1466, H = 969;
const plot = { left: 104, right: 1262, top: 122, bottom: 829.5 };
const barBox = { left: 1289, right: 1335, top: 63, bottom: 931, tip: 19 };

const svg = d3.select("#chart");

const x = d3.scaleLinear().domain([-100, -10]).range([plot.left, plot.right]);
const y = d3.scaleLinear().domain([-5, 50]).range([plot.bottom, plot.top]);

// colour is a power norm (gamma 0.85) over the colours
const norm = d3.scalePow().exponent(0.85).domain([0, 100]).range([0, 1]);
const barColor = d3.scaleLinear().domain(colorPos).range(colorHex);
const speedColor = kt => barColor(norm(kt - 20));

svg.append("defs").append("clipPath").attr("id", "plotClip")
  .append("rect")
  .attr("x", plot.left).attr("y", plot.top)
  .attr("width", plot.right - plot.left).attr("height", plot.bottom - plot.top);

const map = svg.append("g").attr("clip-path", "url(#plotClip)");
const line = d3.line().x(d => x(d[0])).y(d => y(d[1]));
const ring = pts => line(pts) + "Z";

// wind cells go under the land, the land masks them
const windCells = windRows.flatMap(r => {
  const out = [];
  for (let i = 2; i + 2 < r.length; i += 2) {
    out.push({ top: r[0], bottom: r[1], west: r[i], kt: r[i + 1], east: r[i + 2] });
  }
  return out;
});
map.append("g").attr("shape-rendering", "crispEdges")
  .selectAll("rect").data(windCells).join("rect")
  .attr("x", d => x(d.west))
  .attr("y", d => y(d.top))
  .attr("width", d => x(d.east) - x(d.west))
  .attr("height", d => y(d.bottom) - y(d.top))
  .attr("fill", d => speedColor(d.kt));

const landRings = [americas, africa].concat(islands);
map.append("g").selectAll("path").data(landRings).join("path")
  .attr("d", ring).attr("fill", "#e5e5e5");

map.append("g").selectAll("path").data(stateLines).join("path")
  .attr("d", line).attr("fill", "none")
  .attr("stroke", "#666").attr("stroke-width", 1.7).attr("stroke-linejoin", "round");

map.append("g").selectAll("path").data(countryLines).join("path")
  .attr("d", line).attr("fill", "none")
  .attr("stroke", "#1c1c1c").attr("stroke-width", 2.3).attr("stroke-linejoin", "round");

map.append("path").attr("d", line(usCanada)).attr("fill", "none")
  .attr("stroke", "#000").attr("stroke-width", 2.8).attr("stroke-linejoin", "round");

map.append("g").selectAll("path").data(landRings).join("path")
  .attr("d", ring).attr("fill", "none")
  .attr("stroke", "#000").attr("stroke-width", 3).attr("stroke-linejoin", "round");

// dotted graticule on top of everything
const grid = map.append("g").attr("stroke", "#808080").attr("stroke-opacity", 0.6)
  .attr("stroke-width", 1.6).attr("stroke-dasharray", "2 3");
grid.selectAll("line.lon").data(lonTicks).join("line").attr("class", "lon")
  .attr("x1", d => x(d)).attr("x2", d => x(d))
  .attr("y1", plot.top).attr("y2", plot.bottom);
grid.selectAll("line.lat").data(latTicks).join("line").attr("class", "lat")
  .attr("x1", plot.left).attr("x2", plot.right)
  .attr("y1", d => y(d)).attr("y2", d => y(d));

svg.append("rect")
  .attr("x", plot.left).attr("y", plot.top)
  .attr("width", plot.right - plot.left).attr("height", plot.bottom - plot.top)
  .attr("fill", "none").attr("stroke", "#000").attr("stroke-width", 2.2);

// lat / lon labels, no tick marks
const lonAxis = d3.axisBottom(x).tickValues(lonTicks).tickSize(0).tickPadding(18)
  .tickFormat(d => Math.abs(d) + "°W");
const latAxis = d3.axisLeft(y).tickValues(latTicks).tickSize(0).tickPadding(14)
  .tickFormat(d => d === 0 ? "0°" : d + "°N");

const lonG = svg.append("g").attr("transform", `translate(0,${plot.bottom})`).call(lonAxis);
const latG = svg.append("g").attr("transform", `translate(${plot.left},-1)`).call(latAxis);
[lonG, latG].forEach(g => {
  g.select(".domain").remove();
  g.selectAll("text").attr("font-size", 27.78).attr("font-family", "DejaVu Sans").attr("fill", "#000");
});

// titles
svg.append("text").attr("x", 683).attr("y", 100).attr("text-anchor", "middle")
  .attr("font-size", 33.33).text("Pangu-ECMWF – Day 5 (10m Wind Speed)");
svg.append("text").attr("x", 683).attr("y", 905).attr("text-anchor", "middle")
  .attr("font-size", 25).style("fill", "#333")
  .text("Max: 31 kt @ 17.0°N, 73.2°W • Valid 2025-10-26 12Z");

// colour bar, scale runs on knots above 20
const barY = d3.scalePow().exponent(0.85).domain([0, 100]).range([barBox.bottom, barBox.top]);
const barSteps = d3.range(0, 100, 0.25);
svg.append("g").attr("shape-rendering", "crispEdges")
  .selectAll("rect").data(barSteps).join("rect")
  .attr("x", barBox.left).attr("width", barBox.right - barBox.left)
  .attr("y", d => barY(d + 0.25))
  .attr("height", d => barY(d) - barY(d + 0.25) + 0.5)
  .attr("fill", d => speedColor(d + 20));

const midX = (barBox.left + barBox.right) / 2;
svg.append("path")
  .attr("d", `M${barBox.left},${barBox.top}L${midX},${barBox.tip}L${barBox.right},${barBox.top}Z`)
  .attr("fill", colorHex[colorHex.length - 1]);
svg.append("path")
  .attr("d", `M${barBox.left},${barBox.bottom}L${barBox.left},${barBox.top}L${midX},${barBox.tip}L${barBox.right},${barBox.top}L${barBox.right},${barBox.bottom}Z`)
  .attr("fill", "none").attr("stroke", "#000").attr("stroke-width", 2.1);

const barAxis = d3.axisRight(barY).tickValues(barTicks.map(d => d - 20))
  .tickSize(10).tickPadding(10).tickFormat(d => d + 20);
const barG = svg.append("g").attr("transform", `translate(${barBox.right},0)`).call(barAxis);
barG.select(".domain").remove();
barG.selectAll("line").attr("stroke", "#000").attr("stroke-width", 2.1);
barG.selectAll("text").attr("font-size", 27.78).attr("font-family", "DejaVu Sans").attr("fill", "#000").attr("dy", "0.38em");

svg.append("text")
  .attr("transform", `translate(1441,${(barBox.top + barBox.bottom) / 2}) rotate(-90)`)
  .attr("text-anchor", "middle").attr("font-size", 27.78)
  .text("10m Wind Speed (knots)");
</script>
</body>
</html>
